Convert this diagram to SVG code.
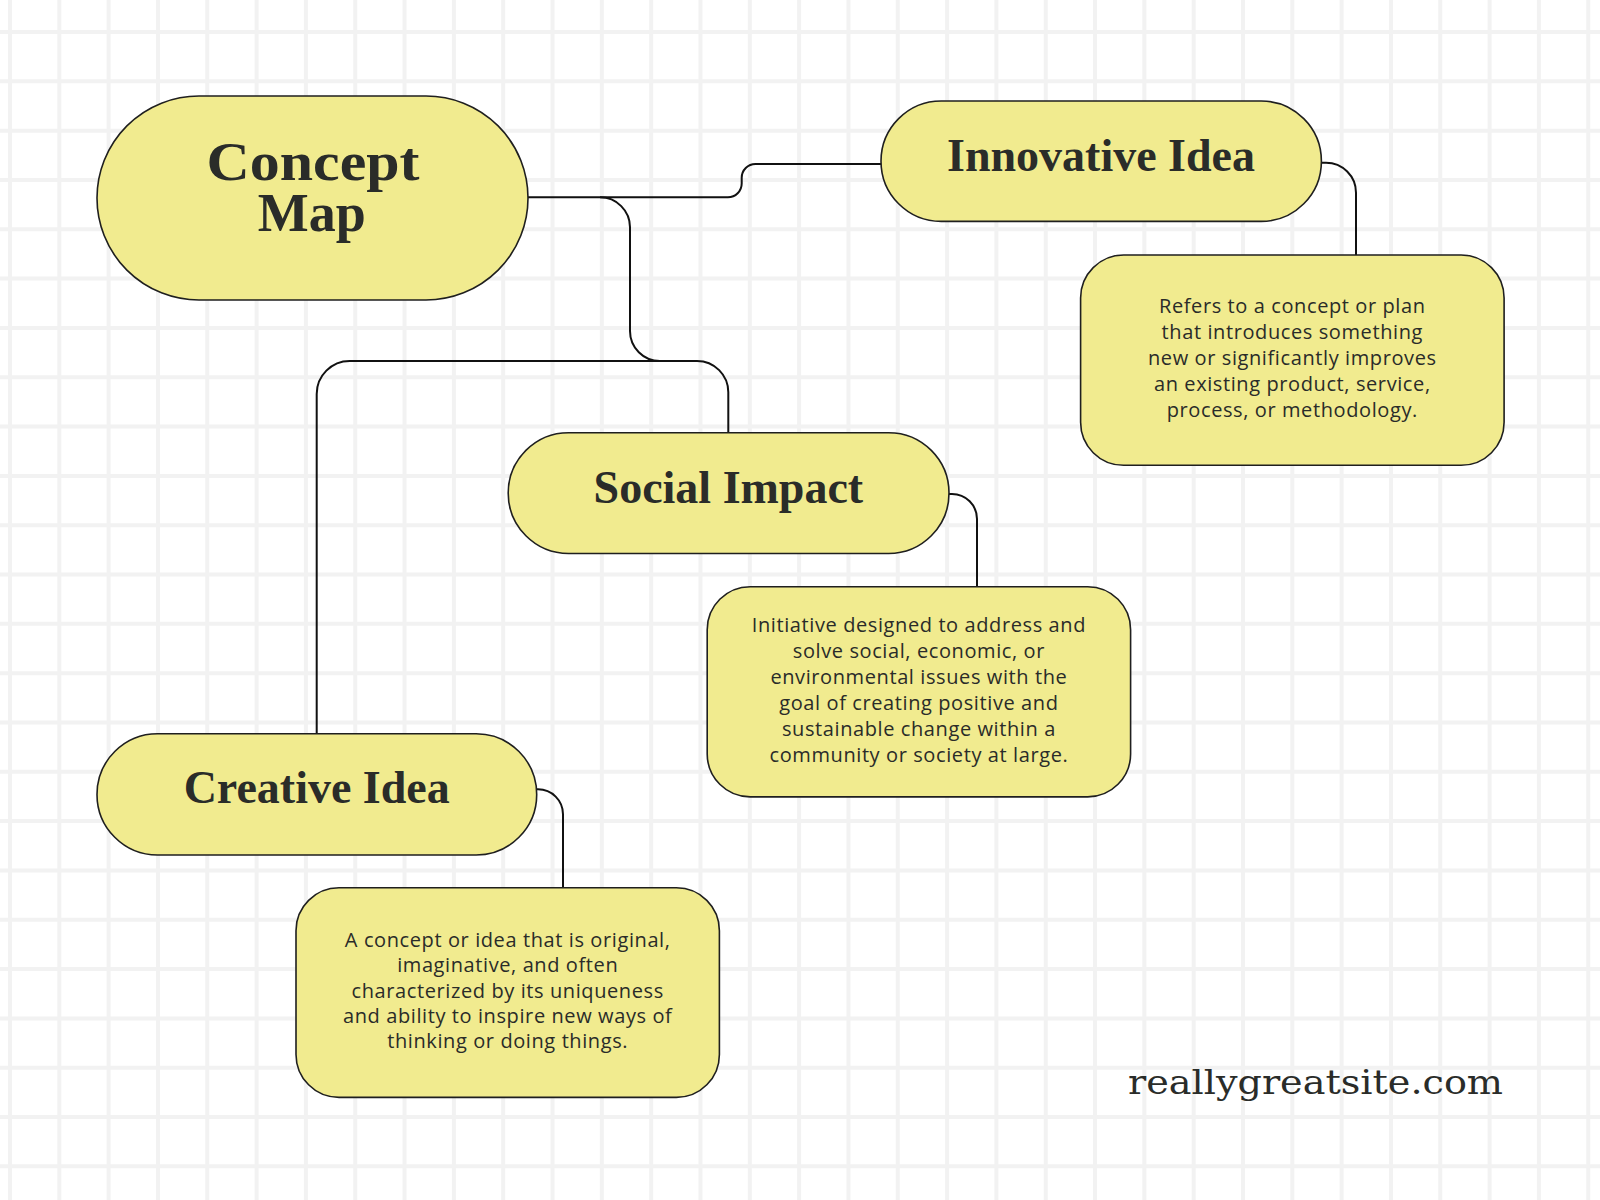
<svg xmlns="http://www.w3.org/2000/svg" width="1600" height="1200" viewBox="0 0 1600 1200">
  <style>
    .grid { fill: none; stroke: #f2f2f2; stroke-width: 4; }
    .node { fill: #f1eb8f; stroke: #1f1f1f; stroke-width: 1.6; }
    .conn { fill: none; stroke: #111111; stroke-width: 2; }
    .title { font-family: "Liberation Serif", "Times New Roman", serif; font-weight: bold; fill: #2a2c29; text-anchor: middle; }
    .desc { font-family: "Open Sans", "Noto Sans", sans-serif; font-size: 20px; fill: #2a2c29; text-anchor: middle; letter-spacing: 0.6px; }
    .site { font-family: "DejaVu Serif", "Liberation Serif", serif; font-size: 34px; fill: #2a2c29; }
  </style>
  <rect x="0" y="0" width="1600" height="1200" fill="#ffffff"/>
  <g id="grid">
    <path class="grid" d="M10,0V1200 M59.32,0V1200 M108.64,0V1200 M157.96,0V1200 M207.28,0V1200 M256.6,0V1200 M305.92,0V1200 M355.24,0V1200 M404.56,0V1200 M453.88,0V1200 M503.2,0V1200 M552.52,0V1200 M601.84,0V1200 M651.16,0V1200 M700.48,0V1200 M749.8,0V1200 M799.12,0V1200 M848.44,0V1200 M897.76,0V1200 M947.08,0V1200 M996.4,0V1200 M1045.72,0V1200 M1095.04,0V1200 M1144.36,0V1200 M1193.68,0V1200 M1243,0V1200 M1292.32,0V1200 M1341.64,0V1200 M1390.96,0V1200 M1440.28,0V1200 M1489.6,0V1200 M1538.92,0V1200 M1588.24,0V1200"/>
    <path class="grid" d="M0,32H1600 M0,81.32H1600 M0,130.64H1600 M0,179.96H1600 M0,229.28H1600 M0,278.6H1600 M0,327.92H1600 M0,377.24H1600 M0,426.56H1600 M0,475.88H1600 M0,525.2H1600 M0,574.52H1600 M0,623.84H1600 M0,673.16H1600 M0,722.48H1600 M0,771.8H1600 M0,821.12H1600 M0,870.44H1600 M0,919.76H1600 M0,969.08H1600 M0,1018.4H1600 M0,1067.72H1600 M0,1117.04H1600 M0,1166.36H1600"/>
  </g>
  <g id="connectors">
    <path class="conn" d="M527.6,197.3 H727.9 A13.8,13.8 0 0 0 741.7,183.5 V177.8 A13.8,13.8 0 0 1 755.5,164 H881"/>
    <path class="conn" d="M600,197.3 A30,30 0 0 1 630,227.3 V331 A30,30 0 0 0 660,361"/>
    <path class="conn" d="M316.7,734 V394 A33,33 0 0 1 349.7,361 H697 A31.3,31.3 0 0 1 728.3,392.3 V433"/>
    <path class="conn" d="M1321.4,162.7 H1326 A30,30 0 0 1 1356,192.7 V255"/>
    <path class="conn" d="M949,494 H952 A25,25 0 0 1 977,519 V587"/>
    <path class="conn" d="M536.7,789.3 H538 A25,25 0 0 1 563,814.3 V888"/>
  </g>
  <g id="node-concept-map">
    <rect class="node" x="97" y="96" width="431" height="204" rx="102" ry="102"/>
    <text class="title" x="313" y="179.5" font-size="54" textLength="213" lengthAdjust="spacingAndGlyphs">Concept</text>
    <text class="title" x="311.7" y="231" font-size="54">Map</text>
  </g>
  <g id="node-innovative-idea">
    <rect class="node" x="881" y="101" width="440.4" height="120.4" rx="60.2" ry="60.2"/>
    <text class="title" x="1101" y="171.4" font-size="46">Innovative Idea</text>
  </g>
  <g id="node-innovative-desc">
    <rect class="node" x="1080.6" y="255" width="423.5" height="210.3" rx="43" ry="43"/>
    <text class="desc" x="1292.3" y="313.3">Refers to a concept or plan</text>
    <text class="desc" x="1292.3" y="339.2">that introduces something</text>
    <text class="desc" x="1292.3" y="365.1">new or significantly improves</text>
    <text class="desc" x="1292.3" y="391">an existing product, service,</text>
    <text class="desc" x="1292.3" y="416.9">process, or methodology.</text>
  </g>
  <g id="node-social-impact">
    <rect class="node" x="508.2" y="432.7" width="440.8" height="120.8" rx="60.4" ry="60.4"/>
    <text class="title" x="728.4" y="502.7" font-size="46">Social Impact</text>
  </g>
  <g id="node-social-desc">
    <rect class="node" x="707.2" y="586.7" width="423.4" height="210.2" rx="43" ry="43"/>
    <text class="desc" x="918.9" y="631.7">Initiative designed to address and</text>
    <text class="desc" x="918.9" y="657.7">solve social, economic, or</text>
    <text class="desc" x="918.9" y="683.7">environmental issues with the</text>
    <text class="desc" x="918.9" y="709.7">goal of creating positive and</text>
    <text class="desc" x="918.9" y="735.7">sustainable change within a</text>
    <text class="desc" x="918.9" y="761.7">community or society at large.</text>
  </g>
  <g id="node-creative-idea">
    <rect class="node" x="97" y="733.8" width="439.7" height="121.2" rx="60.6" ry="60.6"/>
    <text class="title" x="316.7" y="802.7" font-size="46">Creative Idea</text>
  </g>
  <g id="node-creative-desc">
    <rect class="node" x="296" y="887.8" width="423.4" height="209.6" rx="43" ry="43"/>
    <text class="desc" x="507.7" y="946.7">A concept or idea that is original,</text>
    <text class="desc" x="507.7" y="972.1">imaginative, and often</text>
    <text class="desc" x="507.7" y="997.5">characterized by its uniqueness</text>
    <text class="desc" x="507.7" y="1022.9">and ability to inspire new ways of</text>
    <text class="desc" x="507.7" y="1048.3">thinking or doing things.</text>
  </g>
  <g id="website">
    <text class="site" x="1128" y="1094" textLength="375" lengthAdjust="spacingAndGlyphs">reallygreatsite.com</text>
  </g>
</svg>
